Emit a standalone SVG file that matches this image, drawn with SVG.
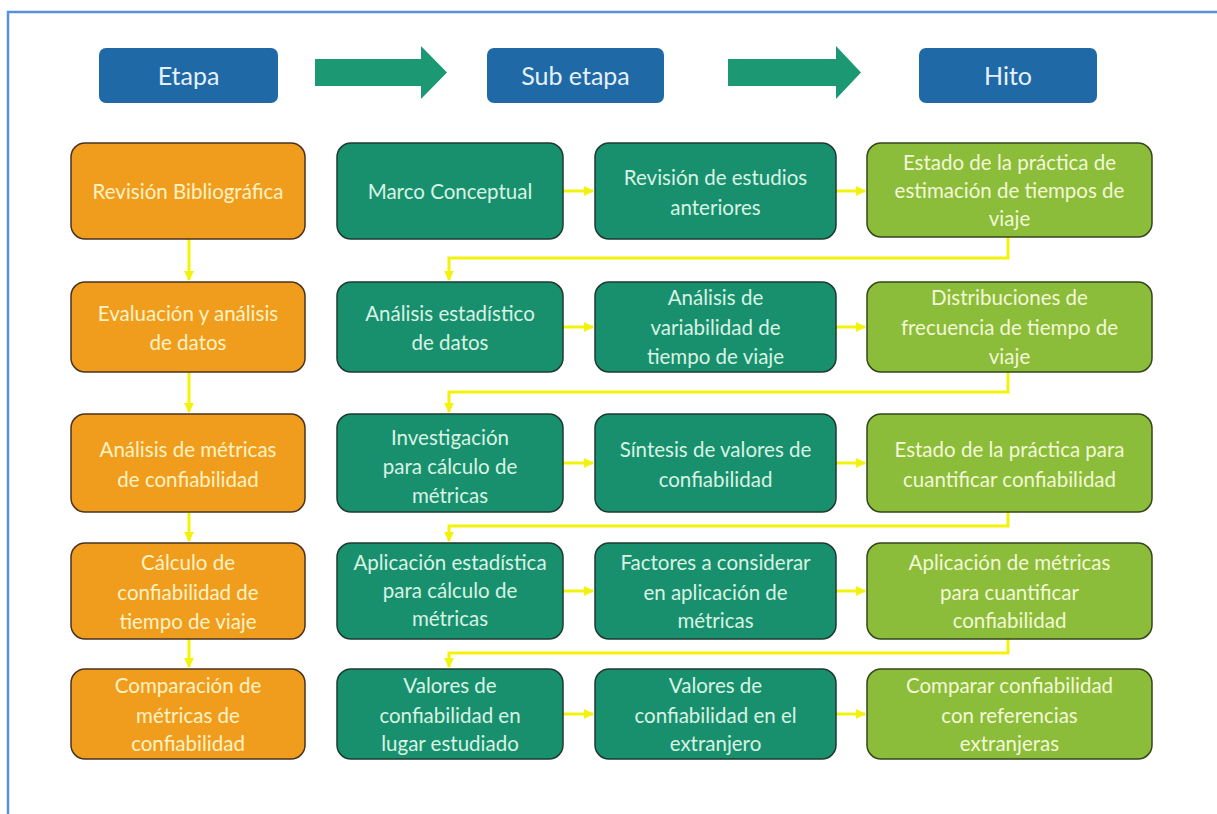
<svg xmlns="http://www.w3.org/2000/svg" width="1217" height="814" viewBox="0 0 1217 814">
<defs>
<style>
.hdr{fill:#1f69a6;}
.hdrt{fill:#e6f0fa;font-family:Lato,"Open Sans",sans-serif;font-size:25px;text-anchor:middle;dominant-baseline:central;}
.or{fill:#f09d1e;stroke:#4a3320;stroke-width:1.5;}
.tl{fill:#18906e;stroke:#1e3a30;stroke-width:1.5;}
.lg{fill:#8bbd3a;stroke:#34461c;stroke-width:1.5;}
.t{font-family:Lato,"Open Sans",sans-serif;font-size:20.5px;text-anchor:middle;dominant-baseline:central;}
.tor{fill:#fff2c4;}
.ttl{fill:#d8f3e4;}
.tlg{fill:#f3f8d6;}
.con{fill:none;stroke:#f2f20a;stroke-width:3;}
.big{fill:#1c9873;}
</style>
<marker id="ya" viewBox="0 0 10 10" refX="9" refY="5" markerWidth="3.3" markerHeight="3.3" orient="auto" markerUnits="strokeWidth">
<path d="M0,0 L10,5 L0,10 z" fill="#f2f20a"/>
</marker>
</defs>
<rect width="1217" height="814" fill="#ffffff"/>
<rect x="8" y="12" width="1230" height="830" fill="none" stroke="#5a8fdc" stroke-width="2.5"/>

<g id="header-etapa"><rect class="hdr" x="99" y="48" width="179" height="55" rx="7"/><text class="hdrt" x="188.5" y="75">Etapa</text></g>
<g id="header-subetapa"><rect class="hdr" x="487" y="48" width="177" height="55" rx="7"/><text class="hdrt" x="575.5" y="75">Sub etapa</text></g>
<g id="header-hito"><rect class="hdr" x="919" y="48" width="178" height="55" rx="7"/><text class="hdrt" x="1008" y="75">Hito</text></g>
<g id="arrow-1"><path class="big" d="M315,59 H421 V46 L447,72.5 L421,99 V86 H315 z"/></g>
<g id="arrow-2"><path class="big" d="M728,59 H836 V46 L861,72.5 L836,99 V86 H728 z"/></g>

<g id="connectors">
<path class="con" d="M189,239 V280" marker-end="url(#ya)"/>
<path class="con" d="M189,372 V412" marker-end="url(#ya)"/>
<path class="con" d="M189,512 V541" marker-end="url(#ya)"/>
<path class="con" d="M189,639 V667" marker-end="url(#ya)"/>
<path class="con" d="M563,191 H593" marker-end="url(#ya)"/>
<path class="con" d="M836,191 H865" marker-end="url(#ya)"/>
<path class="con" d="M563,327 H593" marker-end="url(#ya)"/>
<path class="con" d="M836,327 H865" marker-end="url(#ya)"/>
<path class="con" d="M563,463 H593" marker-end="url(#ya)"/>
<path class="con" d="M836,463 H865" marker-end="url(#ya)"/>
<path class="con" d="M563,591 H593" marker-end="url(#ya)"/>
<path class="con" d="M836,591 H865" marker-end="url(#ya)"/>
<path class="con" d="M563,714 H593" marker-end="url(#ya)"/>
<path class="con" d="M836,714 H865" marker-end="url(#ya)"/>
<path class="con" d="M1008,237 V258 H449 V280" marker-end="url(#ya)"/>
<path class="con" d="M1008,372 V392 H449 V412" marker-end="url(#ya)"/>
<path class="con" d="M1008,512 V526 H449 V541" marker-end="url(#ya)"/>
<path class="con" d="M1008,639 V653 H449 V667" marker-end="url(#ya)"/>
</g>

<g id="n-revision"><rect class="or" x="71" y="143" width="234" height="96" rx="14"/><text class="t tor" x="188" y="191">Revisión Bibliográfica</text></g>
<g id="n-marco"><rect class="tl" x="337" y="143" width="226" height="96" rx="14"/><text class="t ttl" x="450" y="191">Marco Conceptual</text></g>
<g id="n-revest"><rect class="tl" x="595" y="143" width="241" height="96" rx="14"/><text class="t ttl" x="715.5" y="177">Revisión de estudios</text><text class="t ttl" x="715.5" y="207">anteriores</text></g>
<g id="n-estado1"><rect class="lg" x="867" y="143" width="285" height="94" rx="14"/><text class="t tlg" x="1009.5" y="162">Estado de la práctica de</text><text class="t tlg" x="1009.5" y="190">estimación de tiempos de</text><text class="t tlg" x="1009.5" y="218">viaje</text></g>

<g id="n-evaluacion"><rect class="or" x="71" y="282" width="234" height="90" rx="14"/><text class="t tor" x="188" y="313">Evaluación y análisis</text><text class="t tor" x="188" y="342">de datos</text></g>
<g id="n-analest"><rect class="tl" x="337" y="282" width="226" height="90" rx="14"/><text class="t ttl" x="450" y="313">Análisis estadístico</text><text class="t ttl" x="450" y="342">de datos</text></g>
<g id="n-analvar"><rect class="tl" x="595" y="282" width="241" height="90" rx="14"/><text class="t ttl" x="715.5" y="297">Análisis de</text><text class="t ttl" x="715.5" y="327">variabilidad de</text><text class="t ttl" x="715.5" y="356">tiempo de viaje</text></g>
<g id="n-distrib"><rect class="lg" x="867" y="282" width="285" height="90" rx="14"/><text class="t tlg" x="1009.5" y="297">Distribuciones de</text><text class="t tlg" x="1009.5" y="327">frecuencia de tiempo de</text><text class="t tlg" x="1009.5" y="356">viaje</text></g>

<g id="n-analmet"><rect class="or" x="71" y="414" width="234" height="98" rx="14"/><text class="t tor" x="188" y="449">Análisis de métricas</text><text class="t tor" x="188" y="479">de confiabilidad</text></g>
<g id="n-invest"><rect class="tl" x="337" y="414" width="226" height="98" rx="14"/><text class="t ttl" x="450" y="437">Investigación</text><text class="t ttl" x="450" y="466">para cálculo de</text><text class="t ttl" x="450" y="495">métricas</text></g>
<g id="n-sintesis"><rect class="tl" x="595" y="414" width="241" height="98" rx="14"/><text class="t ttl" x="715.5" y="449">Síntesis de valores de</text><text class="t ttl" x="715.5" y="479">confiabilidad</text></g>
<g id="n-estado2"><rect class="lg" x="867" y="414" width="285" height="98" rx="14"/><text class="t tlg" x="1009.5" y="449">Estado de la práctica para</text><text class="t tlg" x="1009.5" y="479">cuantificar confiabilidad</text></g>

<g id="n-calculo"><rect class="or" x="71" y="543" width="234" height="96" rx="14"/><text class="t tor" x="188" y="562">Cálculo de</text><text class="t tor" x="188" y="592">confiabilidad de</text><text class="t tor" x="188" y="621">tiempo de viaje</text></g>
<g id="n-aplest"><rect class="tl" x="337" y="543" width="226" height="96" rx="14"/><text class="t ttl" x="450" y="562">Aplicación estadística</text><text class="t ttl" x="450" y="590">para cálculo de</text><text class="t ttl" x="450" y="618">métricas</text></g>
<g id="n-factores"><rect class="tl" x="595" y="543" width="241" height="96" rx="14"/><text class="t ttl" x="715.5" y="562">Factores a considerar</text><text class="t ttl" x="715.5" y="592">en aplicación de</text><text class="t ttl" x="715.5" y="620">métricas</text></g>
<g id="n-aplmet"><rect class="lg" x="867" y="543" width="285" height="96" rx="14"/><text class="t tlg" x="1009.5" y="562">Aplicación de métricas</text><text class="t tlg" x="1009.5" y="592">para cuantificar</text><text class="t tlg" x="1009.5" y="620">confiabilidad</text></g>

<g id="n-comparacion"><rect class="or" x="71" y="669" width="234" height="90" rx="14"/><text class="t tor" x="188" y="685">Comparación de</text><text class="t tor" x="188" y="715">métricas de</text><text class="t tor" x="188" y="743">confiabilidad</text></g>
<g id="n-vallugar"><rect class="tl" x="337" y="669" width="226" height="90" rx="14"/><text class="t ttl" x="450" y="685">Valores de</text><text class="t ttl" x="450" y="715">confiabilidad en</text><text class="t ttl" x="450" y="743">lugar estudiado</text></g>
<g id="n-valext"><rect class="tl" x="595" y="669" width="241" height="90" rx="14"/><text class="t ttl" x="715.5" y="685">Valores de</text><text class="t ttl" x="715.5" y="715">confiabilidad en el</text><text class="t ttl" x="715.5" y="743">extranjero</text></g>
<g id="n-comparar"><rect class="lg" x="867" y="669" width="285" height="90" rx="14"/><text class="t tlg" x="1009.5" y="685">Comparar confiabilidad</text><text class="t tlg" x="1009.5" y="715">con referencias</text><text class="t tlg" x="1009.5" y="743">extranjeras</text></g>
</svg>
